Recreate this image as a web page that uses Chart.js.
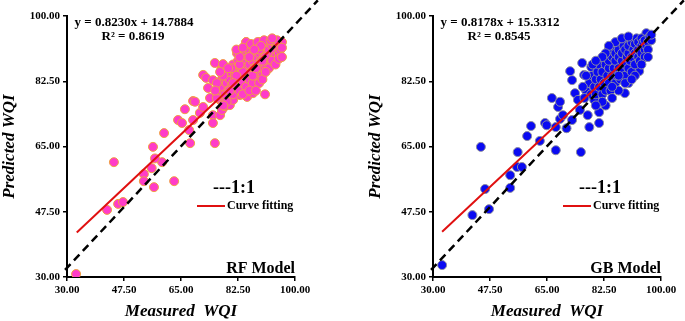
<!DOCTYPE html>
<html><head><meta charset="utf-8">
<script src="https://cdn.jsdelivr.net/npm/chart.js@4"></script>
<style>
html,body{margin:0;padding:0;background:#fff;width:685px;height:321px;overflow:hidden}
canvas{position:absolute;top:0}
</style></head><body>
<canvas id="c1" width="342" height="321" style="left:0"></canvas>
<canvas id="c2" width="319" height="321" style="left:366px"></canvas>
<script>
// ---------- data ----------
const axisTicks = [30, 47.5, 65, 82.5, 100];
// reference "1:1" guide line as drawn in the source figure (endpoints)
const diagX = [29.4, 107];
const diagY = [31.9, 104.2];

const rfMeasured = [
32.8,42.3,45.7,47.2,44.4,53.6,53.6,56.0,56.7,62.9,
59.2,57.0,56.4,59.8,67.8,75.4,64.1,65.3,66.2,68.7,
69.3,68.7,67.5,70.8,71.8,73.3,73.9,74.8,74.8,77.0,
77.0,77.6,78.5,80.0,71.8,72.7,75.4,77.3,77.9,74.8,
77.0,76.4,80.7,82.2,84.0,85.6,90.8,85.3,83.1,87.1,
81.0,
76,77,77.5,78,78.5,79,79,79.5,80,80,
80.5,81,81,81.5,82,82,82.5,83,83,83.5,
84,84,84.5,85,85,85,85.5,86,86,86,
86.5,87,87,87,87.5,88,88,88,88.5,89,
89,89,89.5,90,90,90,90.5,91,91,91,
91.5,92,92,92,92.5,93,93,93,93.5,94,
94,94,94.5,95,95,95.5,96,96,84,83,
82,81,80,79,78,86,87,88,89,91,
90,92,89,87,85,83,84,86,88,90,
91,93,94,95,96,80.5,79.5,78,77,76,
75.5,85,86.5,88.5,90.5,92.5,94.5,93,89.5,87.5,
82,84
];
const rfPredicted = [
30.8,48.0,49.6,50.1,60.8,57.6,55.7,59.2,54.1,55.7,
60.8,61.8,64.9,68.6,65.9,65.9,72.1,71.3,75.0,77.2,
77.0,72.1,69.4,74.0,75.6,80.7,78.0,73.4,71.3,73.4,
77.5,74.8,75.8,76.1,84.2,83.4,87.4,85.5,87.1,82.8,
82.0,79.3,80.4,90.0,89.5,91.7,79.0,78.3,78.8,79.3,
77.5,
78,80,83,81,79,84,82,80,83,85,
81,79,87,84,82,86,88,80,84,86,
82,88,90,84,86,81,89,83,87,91,
85,88,90,82,86,84,89,92,87,85,
90,93,88,86,91,84,89,87,92,93,
90,88,91,93,89,90,92,87,93,91,
89,93,92,90,92.5,91,93,91.5,85,87,
84,82,80,77,76,89,84,86,82,89,
88,86,91,92,93,89,79,80,80,83,
85,88,87,88.5,89,86,86,84,85,82,
80,93,92.5,93,93.5,93.5,93.5,94,92,91,
91,91.5
];

const gbMeasured = [
32.8,42.1,47.2,46.0,53.7,53.7,55.8,57.3,44.7,56.0,
67.7,75.4,58.9,60.1,62.8,64.4,64.9,66.5,68.4,69.0,
67.7,69.0,69.9,71.0,72.7,72.1,72.7,73.6,74.5,75.1,
75.8,76.4,77.5,78.0,78.6,79.2,79.5,81.0,81.0,82.3,
84.0,86.2,88.6,88.9,93.3,91.8,95.5,96.4,
77,78,78.5,79,79.5,80,80,80.5,81,81,
81.5,82,82,82.5,83,83,83.5,84,84,84,
84.5,85,85,85.5,86,86,86,86.5,87,87,
87,87.5,88,88,88,88.5,89,89,89,89.5,
90,90,90,90.5,91,91,91,91.5,92,92,
92,92.5,93,93,93,93.5,94,94,94,94.5,
95,95,95,95.5,96,96,96.5,97,97,83,
85,87,82,80,90,92,94,96,86,84,
88,90,79,77,76,76.5,85,87,89,91,
83,82,80
];
const gbPredicted = [
33.2,46.6,48.2,53.6,53.9,57.3,59.5,59.5,64.9,63.5,
64.0,63.5,67.8,70.5,66.5,71.3,70.7,78.0,75.6,77.0,
70.2,72.4,73.4,69.9,72.1,85.2,82.8,79.3,77.5,74.8,
87.4,84.2,73.4,70.2,86.3,82.8,77.5,74.2,71.3,88.2,
90.9,91.4,93.0,79.3,85.2,87.6,95.4,94.1,
80,82,79,84,81,79,83,85,81,87,
83,79,85,82,87,80,84,82,86,88,
80,84,89,86,82,88,90,84,86,89,
91,83,85,88,90,92,84,87,91,89,
86,90,92,88,85,89,93,91,87,90,
92.5,94,89,91,93,88,92,94,90,93,
91,93.5,89,92,93,91,94.5,93.5,95,76,
78,80,77,76,82,84,87,89,93,92,
94,94.5,87,84,81,78,81,84,82,83,
90,89,88
];

const rfFit = { slope: 0.8230, intercept: 14.7884, r2: 0.8619, xRange: [33, 96.3] };
const gbFit = { slope: 0.8178, intercept: 15.3312, r2: 0.8545, xRange: [32.8, 96.4] };

// ---------- drawing ----------
const SERIF = '"Liberation Serif", "Times New Roman", serif';

function annotations(eqText, r2Text, modelText) {
  return {
    id: 'ann',
    afterDatasetsDraw(chart) {
      const ctx = chart.ctx, a = chart.chartArea, L = a.left;
      ctx.save();
      ctx.fillStyle = '#000';
      ctx.textBaseline = 'middle';
      ctx.font = 'bold 13px ' + SERIF;
      ctx.textAlign = 'center';
      ctx.fillText(eqText, L + 67, 23);
      ctx.fillText(r2Text, L + 66, 37);
      ctx.textAlign = 'left';
      ctx.font = 'bold 18px ' + SERIF;
      ctx.fillText('---1:1', L + 146, 188);
      ctx.strokeStyle = '#E01010';
      ctx.lineWidth = 2;
      ctx.beginPath(); ctx.moveTo(L + 130, 206); ctx.lineTo(L + 158, 206); ctx.stroke();
      ctx.font = 'bold 12px ' + SERIF;
      ctx.fillText('Curve fitting', L + 160, 206);
      ctx.font = 'bold 16px ' + SERIF;
      ctx.textAlign = 'right';
      ctx.fillText(modelText, a.right, 269);
      ctx.restore();
    }
  };
}

function makeChart(id, measured, predicted, fit, modelText, fill, stroke, rightPad) {
  const pts = measured.map((x, i) => ({ x: x, y: predicted[i] }));
  const fitPts = fit.xRange.map(x => ({ x: x, y: fit.slope * x + fit.intercept }));
  const diag = diagX.map((x, i) => ({ x: x, y: diagY[i] }));
  const tickFont = { family: SERIF, weight: 'bold', size: 11 };
  const titleFont = { family: SERIF, weight: 'bold', style: 'italic', size: 17, lineHeight: 1 };
  const mkScale = (title, fitFn) => ({
    type: 'linear', min: 30, max: 100,
    afterBuildTicks: s => { s.ticks = axisTicks.map(v => ({ value: v })); },
    afterFit: fitFn,
    ticks: { font: tickFont, color: '#000', padding: 3, maxRotation: 0, autoSkip: false,
             callback: v => Number(v).toFixed(2) },
    border: { display: true, color: '#000', width: 2 },
    grid: { display: true, drawOnChartArea: false, drawTicks: true, tickLength: 4, color: '#000', lineWidth: 1.5 },
    title: { display: true, text: title, font: titleFont, color: '#000', padding: 1 }
  });
  const eqText = 'y = ' + fit.slope.toFixed(4) + 'x + ' + fit.intercept.toFixed(4);
  const r2Text = 'R\u00B2 = ' + fit.r2.toFixed(4);
  return new Chart(document.getElementById(id), {
    type: 'scatter',
    data: {
      datasets: [
        { data: diag, showLine: true, borderColor: '#000', borderWidth: 2.5, borderDash: [8, 5],
          pointRadius: 0, clip: false, order: 1 },
        { data: fitPts, showLine: true, borderColor: '#E01010', borderWidth: 2,
          pointRadius: 0, order: 2 },
        { data: pts, backgroundColor: fill, borderColor: stroke, borderWidth: 1,
          pointRadius: 4.5, order: 3 }
      ]
    },
    options: {
      responsive: false, animation: false, devicePixelRatio: 1,
      layout: { padding: { left: 0, top: 16, right: rightPad, bottom: 0 } },
      plugins: { legend: { display: false }, tooltip: { enabled: false } },
      scales: {
        x: mkScale('Measured  WQI', s => { s.height = 44; }),
        y: mkScale('Predicted WQI', s => { s.width = 67; })
      }
    },
    plugins: [annotations(eqText, r2Text, modelText)]
  });
}

makeChart('c1', rfMeasured, rfPredicted, rfFit, 'RF Model', '#FF3CC8', '#F0A040', 47);
makeChart('c2', gbMeasured, gbPredicted, gbFit, 'GB Model', '#0A0AF2', '#8A8AA0', 24);
</script>
</body></html>
